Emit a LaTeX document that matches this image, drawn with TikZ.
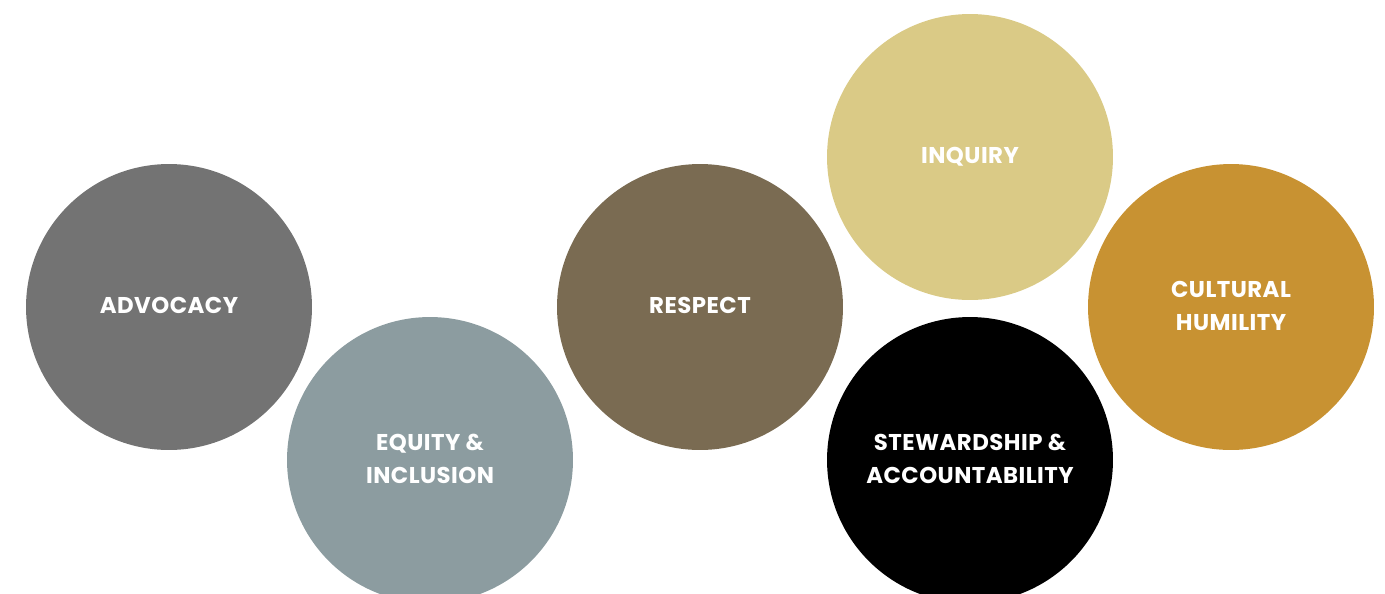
\documentclass[tikz,border=0pt]{standalone}
\usepackage{fontspec}
\setmainfont{Poppins}[LetterSpace=2]
\definecolor{advgray}{HTML}{737373}
\definecolor{eqblue}{HTML}{8C9CA0}
\definecolor{resbrown}{HTML}{7A6B52}
\definecolor{inqsand}{HTML}{DACA86}
\definecolor{culgold}{HTML}{C89232}
\tikzset{
	value/.style={circle, minimum size=5.72cm, inner sep=0pt, text=white, align=center,
		font=\fontsize{13pt}{18.6pt}\selectfont\bfseries}
}
\begin{document}
\begin{tikzpicture}[x=0.02cm, y=-0.02cm]
			\useasboundingbox (0, 0) rectangle (1385, 593);
			
			\node [value, fill=advgray] (advocacy) at (169, 307) {\raisebox{1.5pt}{ADVOCACY}};
			\node [value, fill=eqblue] (equity) at (430, 460) {\raisebox{1.5pt}{EQUITY \&}\\\raisebox{1.5pt}{INCLUSION}};
			\node [value, fill=resbrown] (respect) at (700, 307) {\raisebox{1.5pt}{RESPECT}};
			\node [value, fill=inqsand] (inquiry) at (970, 157) {\raisebox{1.5pt}{INQUIRY}};
			\node [value, fill=black] (stewardship) at (970, 460) {\raisebox{1.5pt}{STEWARDSHIP \&}\\\raisebox{1.5pt}{ACCOUNTABILITY}};
			\node [value, fill=culgold] (cultural) at (1231, 307) {\raisebox{1.5pt}{CULTURAL}\\\raisebox{1.5pt}{HUMILITY}};
		\end{tikzpicture}
\end{document}
